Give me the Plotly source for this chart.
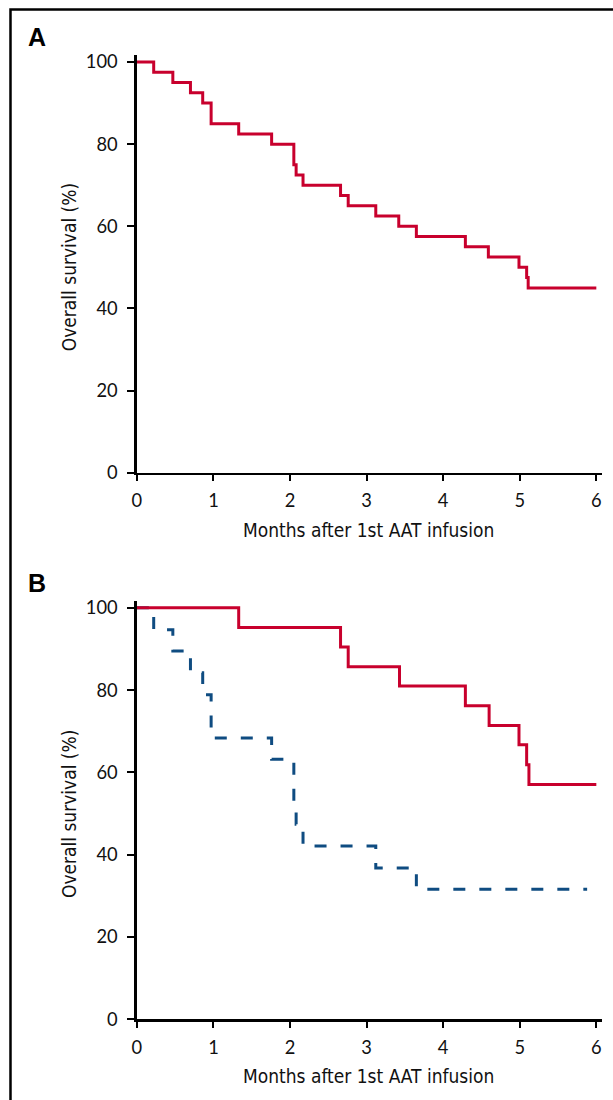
import plotly.graph_objects as go

# ---------------- data ----------------
# Panel A: all patients
a_months = [0, 0.22, 0.47, 0.70, 0.86, 0.97, 1.33, 1.76, 2.05, 2.08, 2.17, 2.66, 2.76,
            3.12, 3.42, 3.65, 4.29, 4.59, 4.99, 5.09, 5.11, 6.0]
a_survival = [100, 97.5, 95, 92.5, 90, 85, 82.5, 80, 75, 72.5, 70, 67.5, 65,
              62.5, 60, 57.5, 55, 52.5, 50, 47.5, 45, 45]

# Panel B: two groups
b_red_months = [0, 1.33, 2.66, 2.76, 3.43, 4.29, 4.60, 4.99, 5.09, 5.12, 6.0]
b_red_survival = [100, 95.2, 90.5, 85.7, 81.0, 76.2, 71.4, 66.7, 61.9, 57.1, 57.1]

b_blue_months = [0, 0.22, 0.47, 0.70, 0.86, 0.97, 1.76, 2.05, 2.08, 2.17, 3.12, 3.65, 5.88]
b_blue_survival = [100, 94.7, 89.5, 84.2, 78.9, 68.4, 63.2, 52.6, 47.4, 42.1, 36.8, 31.6, 31.6]

x_ticks = [0, 1, 2, 3, 4, 5, 6]
y_ticks = [0, 20, 40, 60, 80, 100]
x_title = "Months after 1st AAT infusion"
y_title = "Overall survival (%)"

RED = "#c8002d"
BLUE = "#0f4c81"
W, H = 613, 1100


# layout helpers: convert target pixel positions to paper fractions
def px(x):
    return ((x - 4) / 0.993) / W


def py(y):
    return 1 - ((y - 5) / 0.985) / H


TICK_FONT = dict(family="Lato, Liberation Sans, sans-serif", size=18.3, color="#111")
TITLE_FONT = dict(family="DejaVu Sans Condensed, Liberation Sans Narrow, sans-serif",
                  size=19, color="#111")

fig = go.Figure()
fig.add_trace(go.Scatter(x=a_months, y=a_survival, mode="lines", line_shape="hv",
                         line=dict(color=RED, width=3), xaxis="x", yaxis="y", showlegend=False))
fig.add_trace(go.Scatter(x=b_blue_months, y=b_blue_survival, mode="lines", line_shape="hv",
                         line=dict(color=BLUE, width=3, dash="12px,14px"),
                         xaxis="x2", yaxis="y2", showlegend=False))
fig.add_trace(go.Scatter(x=b_red_months, y=b_red_survival, mode="lines", line_shape="hv",
                         line=dict(color=RED, width=3), xaxis="x2", yaxis="y2", showlegend=False))

xdom = [px(136), px(602)]
ydomA = [py(472), py(55)]
ydomB = [py(1018), py(600)]

axis_common = dict(showline=True, linecolor="black", linewidth=2.5, ticks="outside",
                   tickcolor="black", tickwidth=2, showgrid=False, zeroline=False,
                   tickfont=TICK_FONT, fixedrange=True)

fig.update_layout(
    width=W, height=H, margin=dict(l=0, r=0, t=0, b=0),
    paper_bgcolor="white", plot_bgcolor="white",
    xaxis=dict(domain=xdom, range=[0, 6.078], tickvals=x_ticks, ticklen=6,
               ticklabelstandoff=4, anchor="y", **axis_common),
    yaxis=dict(domain=ydomA, range=[0, 101.7], tickvals=y_ticks, ticklen=7,
               ticklabelstandoff=6, anchor="x", **axis_common),
    xaxis2=dict(domain=xdom, range=[0, 6.078], tickvals=x_ticks, ticklen=6,
                ticklabelstandoff=4, anchor="y2", **axis_common),
    yaxis2=dict(domain=ydomB, range=[0, 101.7], tickvals=y_ticks, ticklen=7,
                ticklabelstandoff=6, anchor="x2", **axis_common),
)

annotations = []
for ytitle_c, xtitle_c, label, label_y in [(266, 529, "A", 37), (812, 1075, "B", 582)]:
    annotations.append(dict(text=x_title, x=px(368), y=py(xtitle_c), xref="paper", yref="paper",
                            xanchor="center", yanchor="middle", showarrow=False, font=TITLE_FONT))
    annotations.append(dict(text=y_title, x=px(68), y=py(ytitle_c), xref="paper", yref="paper",
                            xanchor="center", yanchor="middle", textangle=-90, showarrow=False,
                            font=TITLE_FONT))
    annotations.append(dict(text="<b>" + label + "</b>", x=px(36.5), y=py(label_y),
                            xref="paper", yref="paper", xanchor="center", yanchor="middle",
                            showarrow=False,
                            font=dict(family="Liberation Sans, Arial, sans-serif", size=25, color="black")))
fig.update_layout(annotations=annotations)

fig.add_shape(type="rect", xref="paper", yref="paper", x0=px(9.5), x1=1.2, y0=-0.2, y1=py(9.5),
              line=dict(color="black", width=2.5), fillcolor="rgba(0,0,0,0)", layer="above")

post = (
    "var s=document.createElement('style');"
    "s.textContent='html,body{margin:0!important;padding:0!important;width:613px;height:1100px;overflow:hidden;}"
    "body>div{margin:0;padding:0;line-height:0;font-size:0;}';"
    "document.head.appendChild(s);"
)

fig.write_html("out.html", config={"displayModeBar": False, "staticPlot": True}, post_script=post)
